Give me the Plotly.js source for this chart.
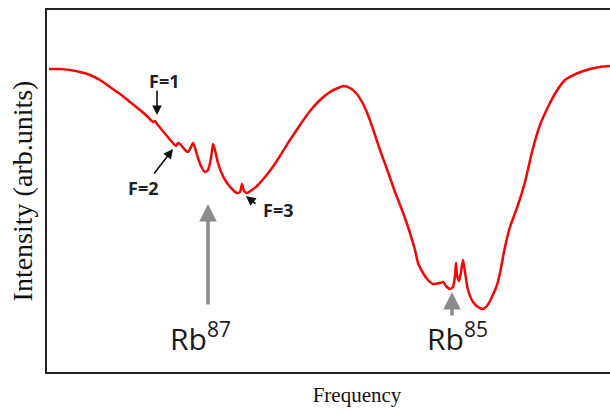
<!DOCTYPE html>
<html>
<head>
<meta charset="utf-8">
<script src="https://cdn.plot.ly/plotly-3.0.1.min.js"></script>
<style>html,body{margin:0;padding:0;background:#fff;overflow:hidden;}#wrap{width:610px;height:413px;overflow:hidden;}#chart{width:667px;height:413px;}</style>
</head>
<body>
<div id="wrap"><div id="chart"></div></div>
<script>
// Frequency (arbitrary units) and intensity (arbitrary units)
const frequency = [2,13,23,33,43,53,63,73,83,93,101,106,108,110,115,120,125,129,131,134,138,141,144,146,148,151,154,158,161,164,166,168,171,175,180,186,190,193,195,197,200,205,211,218,225,233,243,253,263,273,283,291,297,303,309,315,321,327,333,341,348,355,362,368,371,376,381,386,393,396,399,403,406,408,409,410,412,414,416,418,421,426,431,436,440,445,450,453,458,463,471,478,485,493,501,509,518,531,543,553,563];
const intensity = [303,303,302,300,297,292,285,278,270,262,255,250,251,248,242,236,230,226,229,227,222,220,225,229,224,214,206,200,202,214,228,222,209,198,189,182,179,180,188,181,179,182,187,195,204,216,232,247,261,272,280,284,286,284,279,270,257,240,222,200,180,162,142,122,109,99,92,88,89,90,86,83,85,96,109,97,91,100,112,100,82,70,65,63,66,75,87,99,125,145,167,190,220,247,265,280,292,299,303,305,306,308,310];

// Annotation labels and positions (data units)
const fLabels = ['F=1', 'F=2', 'F=3'];
const fTextX = [117, 96, 231];
const fTextY = [291, 184, 162];
const fArrowTailX = [110, 106, 210];
const fArrowTailY = [283, 197, 167];
const fArrowHeadX = [110, 126, 199];
const fArrowHeadY = [257, 223, 176];

const isoLabels = ['Rb<sup>87</sup>', 'Rb<sup>85</sup>'];
const isoTextX = [153, 410];
const isoTextY = [35, 35];
const isoTailX = [161, 405];
const isoTailY = [66, 55];
const isoHeadX = [161, 405];
const isoHeadY = [168, 80];

const annotations = [];
for (let i = 0; i < fLabels.length; i++) {
  annotations.push({x: fTextX[i], y: fTextY[i], xref: 'x', yref: 'y', text: '<b>' + fLabels[i] + '</b>',
    showarrow: false, font: {family: '"Open Sans", sans-serif', size: 18, color: '#222'}});
  annotations.push({x: fArrowHeadX[i], y: fArrowHeadY[i], ax: fArrowTailX[i], ay: fArrowTailY[i],
    xref: 'x', yref: 'y', axref: 'x', ayref: 'y', text: '', showarrow: true,
    arrowhead: 2, arrowsize: 1.2, arrowwidth: 1.6, arrowcolor: '#111'});
}
for (let i = 0; i < isoLabels.length; i++) {
  annotations.push({x: isoTextX[i], y: isoTextY[i], xref: 'x', yref: 'y', text: isoLabels[i],
    showarrow: false, font: {family: '"Open Sans", sans-serif', size: 30, color: '#1a1a1a'}});
  annotations.push({x: isoHeadX[i], y: isoHeadY[i], ax: isoTailX[i], ay: isoTailY[i],
    xref: 'x', yref: 'y', axref: 'x', ayref: 'y', text: '', showarrow: true,
    arrowhead: 2, arrowsize: 1, arrowwidth: 3.5, arrowcolor: '#8c8c8c'});
}

const trace = {x: frequency, y: intensity, type: 'scatter', mode: 'lines',
  line: {color: 'rgb(245,5,5)', width: 2.5, shape: 'spline', smoothing: 0.6}, hoverinfo: 'skip'};

const layout = {
  width: 667, height: 413,
  margin: {l: 47, r: 0, t: 10, b: 41},
  paper_bgcolor: '#fff', plot_bgcolor: '#fff',
  showlegend: false,
  xaxis: {range: [0, 620], showgrid: false, zeroline: false, showticklabels: false, ticks: '',
    showline: true, linecolor: '#222', linewidth: 2, mirror: true,
    title: {text: 'Frequency', standoff: 14, font: {family: '"Liberation Serif", serif', size: 21, color: '#111'}}},
  yaxis: {range: [0, 362], showgrid: false, zeroline: false, showticklabels: false, ticks: '',
    showline: true, linecolor: '#222', linewidth: 2, mirror: true,
    title: {text: 'Intensity (arb.units)', standoff: 4, font: {family: '"Liberation Serif", serif', size: 28, color: '#111'}}},
  annotations: annotations
};

Plotly.newPlot('chart', [trace], layout, {displayModeBar: false, staticPlot: true});
</script>
</body>
</html>
